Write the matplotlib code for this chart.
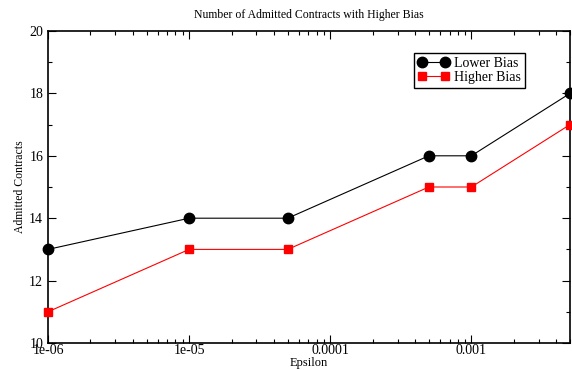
import matplotlib.pyplot as plt
from matplotlib.ticker import FixedLocator, FixedFormatter, MultipleLocator, LogLocator, NullFormatter

plt.rcParams['font.family'] = 'Liberation Serif'

# dados
epsilon = [1e-6, 1e-5, 5e-5, 5e-4, 1e-3, 5e-3]
lower_bias = [13, 14, 14, 16, 16, 18]
higher_bias = [11, 13, 13, 15, 15, 17]
xtick_vals = [1e-6, 1e-5, 1e-4, 1e-3]
xtick_labels = ['1e-06', '1e-05', '0.0001', '0.001']

fig = plt.figure(figsize=(5.72, 3.70), dpi=100)
ax = fig.add_axes([48/572, 1-343/370, 522/572, 312/370])

ax.plot(epsilon, lower_bias, color='black', marker='o', markersize=7.5, lw=0.8, label='Lower Bias', clip_on=False, zorder=3)
ax.plot(epsilon, higher_bias, color='red', marker='s', markersize=6, lw=0.8, label='Higher Bias', clip_on=False, zorder=3)

ax.set_xscale('log')
ax.set_xlim(1e-6, 5e-3)
ax.set_ylim(10, 20)
ax.xaxis.set_major_locator(FixedLocator(xtick_vals))
ax.xaxis.set_major_formatter(FixedFormatter(xtick_labels))
ax.xaxis.set_minor_locator(LogLocator(base=10, subs=range(2, 10)))
ax.xaxis.set_minor_formatter(NullFormatter())
ax.yaxis.set_major_locator(MultipleLocator(2))
ax.yaxis.set_minor_locator(MultipleLocator(1))

ax.tick_params(which='both', direction='in', top=True, right=True, labelsize=10, width=0.8)
ax.tick_params(axis='x', which='major', pad=1)
ax.tick_params(which='major', length=6)
ax.tick_params(which='minor', length=3)
for s in ax.spines.values():
    s.set_linewidth(1.2)

ax.set_title('Number of Admitted Contracts with Higher Bias', fontsize=8.5, pad=9)
ax.set_xlabel('Epsilon', fontsize=9, labelpad=0)
ax.set_ylabel('Admitted Contracts', fontsize=8.5, labelpad=2)

leg = ax.legend(loc='upper left', bbox_to_anchor=(366/522, 1-22/312), numpoints=2,
                fancybox=False, edgecolor='black', framealpha=1, fontsize=10,
                handlelength=2.2, handletextpad=0.4, borderpad=0.3, labelspacing=0.05,
                borderaxespad=0)
leg.get_frame().set_linewidth(1.0)

plt.savefig('out.png', dpi=100)
